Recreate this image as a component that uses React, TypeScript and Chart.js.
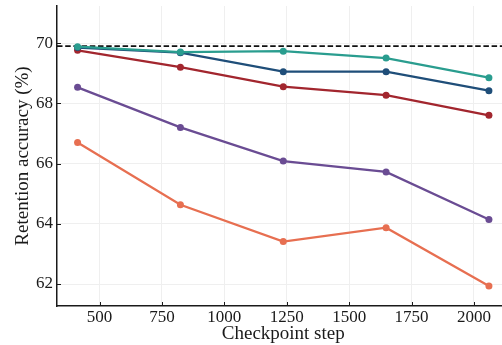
import React, { useEffect, useRef } from "react";
import { Chart, registerables } from "chart.js";

Chart.register(...registerables);

const steps = [412, 824, 1236, 1648, 2060];
const seriesTeal = [69.88, 69.7, 69.73, 69.5, 68.85];
const seriesNavy = [69.85, 69.68, 69.05, 69.05, 68.42];
const seriesRed = [69.76, 69.2, 68.55, 68.27, 67.6];
const seriesPurple = [68.53, 67.2, 66.08, 65.72, 64.14];
const seriesOrange = [66.7, 64.63, 63.41, 63.87, 61.93];
const baselineValue = 69.9;
const xTicks = [500, 750, 1000, 1250, 1500, 1750, 2000];
const yTicks = [62, 64, 66, 68, 70];
const xRange = [329.6, 2142.4];
const yRange = [61.27, 71.23];

const FONT = "'Liberation Serif', 'Times New Roman', serif";

const inwardTicks = {
  id: "inwardTicks",
  afterDraw(chart: any) {
    const { ctx, chartArea } = chart;
    const xs = chart.scales.x;
    const ys = chart.scales.y;
    ctx.save();
    ctx.strokeStyle = "#1a1a1a";
    ctx.lineWidth = 1;
    xTicks.forEach((v) => {
      const px = Math.round(xs.getPixelForValue(v)) + 0.5;
      ctx.beginPath();
      ctx.moveTo(px, chartArea.bottom);
      ctx.lineTo(px, chartArea.bottom - 4);
      ctx.stroke();
    });
    yTicks.forEach((v) => {
      const py = Math.round(ys.getPixelForValue(v)) + 0.5;
      ctx.beginPath();
      ctx.moveTo(chartArea.left, py);
      ctx.lineTo(chartArea.left + 4, py);
      ctx.stroke();
    });
    ctx.restore();
  },
};

function toPoints(vals: number[]) {
  return steps.map((s, i) => ({ x: s, y: vals[i] }));
}

function lineSet(data: number[], color: string, order: number) {
  return {
    data: toPoints(data),
    borderColor: color,
    backgroundColor: color,
    borderWidth: 2.3,
    pointRadius: 3.5,
    pointHoverRadius: 3.5,
    pointBorderWidth: 0,
    tension: 0,
    order,
  };
}

export default function App() {
  const ref = useRef<HTMLCanvasElement | null>(null);

  useEffect(() => {
    if (!ref.current) return;
    const chart = new Chart(ref.current, {
      type: "line",
      data: {
        datasets: [
          lineSet(seriesTeal, "#2a9d8f", 0),
          lineSet(seriesNavy, "#1f4e79", 1),
          lineSet(seriesRed, "#a2262e", 2),
          lineSet(seriesPurple, "#6a4c93", 3),
          lineSet(seriesOrange, "#e76f51", 4),
          {
            data: [
              { x: xRange[0], y: baselineValue },
              { x: xRange[1], y: baselineValue },
            ],
            borderColor: "#111",
            borderWidth: 1.8,
            borderDash: [5.5, 2.7],
            pointRadius: 0,
            order: 5,
          } as any,
        ],
      },
      options: {
        responsive: false,
        animation: false,
        layout: { padding: { top: 6, right: 0, left: 0, bottom: 0 } },
        plugins: { legend: { display: false }, tooltip: { enabled: false } },
        scales: {
          x: {
            type: "linear",
            min: xRange[0],
            max: xRange[1],
            afterBuildTicks: (s: any) => {
              s.ticks = xTicks.map((v) => ({ value: v }));
            },
            afterFit: (s: any) => {
              s.height = 39;
              s.paddingLeft = 0;
              s.paddingRight = 0;
            },
            grid: { color: "#efefef", lineWidth: 1, drawTicks: false },
            border: { display: true, color: "#1a1a1a", width: 1.5 },
            ticks: {
              padding: 1,
              color: "#1a1a1a",
              font: { family: FONT, size: 17 },
              maxRotation: 0,
              autoSkip: false,
              callback: (v: any) => String(v),
            },
            title: {
              display: true,
              text: "Checkpoint step",
              color: "#1a1a1a",
              font: { family: FONT, size: 19 },
              padding: { top: 0, bottom: 0 },
            },
          },
          y: {
            type: "linear",
            min: yRange[0],
            max: yRange[1],
            afterBuildTicks: (s: any) => {
              s.ticks = yTicks.map((v) => ({ value: v }));
            },
            afterFit: (s: any) => {
              s.width = 57;
              s.paddingTop = 0;
              s.paddingBottom = 0;
            },
            grid: { color: "#efefef", lineWidth: 1, drawTicks: false },
            border: { display: true, color: "#1a1a1a", width: 1.5 },
            ticks: {
              padding: 4,
              color: "#1a1a1a",
              font: { family: FONT, size: 17 },
              autoSkip: false,
              callback: (v: any) => String(v),
            },
            title: {
              display: true,
              text: "Retention accuracy (%)",
              color: "#1a1a1a",
              font: { family: FONT, size: 19 },
              padding: { top: 12, bottom: 0 },
            },
          },
        },
      },
      plugins: [inwardTicks],
    } as any);
    return () => chart.destroy();
  }, []);

  return (
    <div style={{ position: "fixed", left: 0, top: 0, width: 502, height: 345, overflow: "hidden", background: "#fff" }}>
      <canvas ref={ref} width={513} height={345} style={{ display: "block", width: 513, height: 345 }} />
    </div>
  );
}
